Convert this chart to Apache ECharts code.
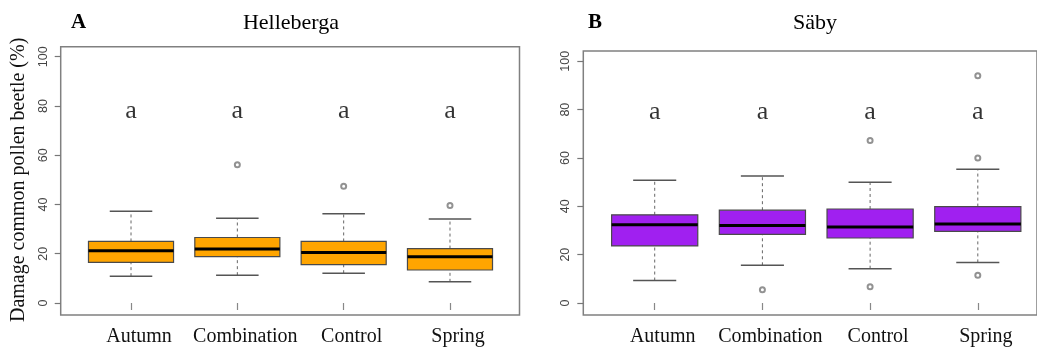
<!DOCTYPE html>
<html>
<head>
<meta charset="utf-8">
<script src="https://cdn.jsdelivr.net/npm/echarts@6/dist/echarts.min.js"></script>
<style>
html,body{margin:0;padding:0;background:#fff;}
#chart{width:1037px;height:347px;}
</style>
</head>
<body>
<div id="chart"></div>
<script>
// ---------- data ----------
var categories = ['Autumn', 'Combination', 'Control', 'Spring'];
var yTicks = [0, 20, 40, 60, 80, 100];
var letters = ['a', 'a', 'a', 'a'];
var letterYA = [78, 78, 78, 78];
var letterYB = [79, 79, 79, 79];

// Helleberga (panel A)
var helleLow  = [10.9, 11.3, 12.1, 8.6];
var helleQ1   = [16.5, 18.8, 15.6, 13.4];
var helleMed  = [21.2, 21.9, 20.5, 18.8];
var helleQ3   = [25.0, 26.6, 25.0, 22.1];
var helleHigh = [37.3, 34.4, 36.2, 34.1];
var helleOutliers = [[1, 56.1], [2, 47.4], [3, 39.6]];

// Säby (panel B)
var sabyLow  = [9.3, 15.6, 14.2, 16.8];
var sabyQ1   = [23.6, 28.4, 26.9, 29.6];
var sabyMed  = [32.4, 32.1, 31.4, 32.7];
var sabyQ3   = [36.5, 38.4, 38.9, 39.9];
var sabyHigh = [50.8, 52.5, 50.0, 55.3];
var sabyOutliers = [[1, 5.5], [2, 67.2], [2, 6.7], [3, 94.0], [3, 60.0], [3, 11.5]];

// ---------- helpers ----------
var SERIF = "'Liberation Serif','Times New Roman',serif";
function boxRows(low, q1, med, q3, high) {
  return categories.map(function (c, i) { return [i, low[i], q1[i], med[i], q3[i], high[i]]; });
}
function makeRender(fill) {
  return function (params, api) {
    var x = api.value(0);
    var band = api.size([1, 0])[0];
    var bw = band * 0.8, cw = band * 0.4;
    var pLow = api.coord([x, api.value(1)]);
    var pQ1 = api.coord([x, api.value(2)]);
    var pMed = api.coord([x, api.value(3)]);
    var pQ3 = api.coord([x, api.value(4)]);
    var pHigh = api.coord([x, api.value(5)]);
    var cx = pMed[0];
    var wStyle = {stroke: '#666', lineWidth: 1, lineDash: [3, 3]};
    var capStyle = {stroke: '#555', lineWidth: 1.5};
    return {
      type: 'group',
      children: [
        {type: 'line', shape: {x1: cx, y1: pQ3[1], x2: cx, y2: pHigh[1]}, style: wStyle},
        {type: 'line', shape: {x1: cx, y1: pLow[1], x2: cx, y2: pQ1[1]}, style: wStyle},
        {type: 'line', shape: {x1: cx - cw / 2, y1: pHigh[1], x2: cx + cw / 2, y2: pHigh[1]}, style: capStyle},
        {type: 'line', shape: {x1: cx - cw / 2, y1: pLow[1], x2: cx + cw / 2, y2: pLow[1]}, style: capStyle},
        {type: 'rect', shape: {x: cx - bw / 2, y: pQ3[1], width: bw, height: pQ1[1] - pQ3[1]},
         style: {fill: fill, stroke: '#4a4a4a', lineWidth: 1.2}},
        {type: 'line', shape: {x1: cx - bw / 2, y1: pMed[1], x2: cx + bw / 2, y2: pMed[1]},
         style: {stroke: '#000', lineWidth: 3}}
      ]
    };
  };
}

function dataXAxis(gi) {
  return {
    type: 'category', gridIndex: gi, data: categories, offset: 10,
    axisLine: {show: false},
    axisTick: {show: true, alignWithLabel: true, length: 7, lineStyle: {color: '#888', width: 1.2}},
    axisLabel: {interval: 0, hideOverlap: false, fontFamily: SERIF, fontSize: 20, color: '#111', margin: 14, padding: [0, 0, 0, 16]},
    splitLine: {show: false}
  };
}
function dataYAxis(gi, offset, name) {
  return {
    type: 'value', gridIndex: gi, min: 0, max: 100, interval: 20, offset: offset,
    axisLine: {show: false},
    axisTick: {show: true, length: 6, lineStyle: {color: '#777', width: 1.2}},
    axisLabel: {rotate: 90, fontFamily: "'Liberation Sans',Arial,sans-serif", fontSize: 12.5, color: '#444', margin: 11,
      formatter: function (v) { return yTicks.indexOf(v) >= 0 ? String(v) : ''; }},
    splitLine: {show: false},
    name: name || '',
    nameLocation: 'middle', nameRotate: 90, nameGap: 32,
    nameTextStyle: {fontFamily: SERIF, fontSize: 20, color: '#111'}
  };
}
function outlierSeries(ax, data) {
  return {type: 'scatter', xAxisIndex: ax, yAxisIndex: ax, symbol: 'emptyCircle', symbolSize: 5,
    itemStyle: {color: '#777', borderColor: '#777', borderWidth: 1}, data: data};
}
function letterSeries(ax, data) {
  return {type: 'scatter', xAxisIndex: ax, yAxisIndex: ax, symbolSize: 0,
    label: {show: true, position: 'inside', fontFamily: SERIF, fontSize: 26, color: '#000',
      formatter: function (p) { return letters[p.dataIndex]; }},
    data: data};
}

var option = {
  animation: false,
  backgroundColor: '#fff',
  grid: [
    {left: 60.7, top: 46.7, width: 458.8, bottom: 32, show: true, borderColor: '#808080', borderWidth: 1.5, backgroundColor: 'transparent'},
    {left: 77.85, top: 56.7, width: 425.3, bottom: 42},
    {left: 583.3, top: 51, width: 466, bottom: 32, show: true, borderColor: '#808080', borderWidth: 1.5, backgroundColor: 'transparent'},
    {left: 600.85, top: 61.3, width: 430.8, bottom: 41.7}
  ],
  xAxis: [
    {type: 'value', gridIndex: 0, show: false},
    dataXAxis(1),
    {type: 'value', gridIndex: 2, show: false},
    dataXAxis(3)
  ],
  yAxis: [
    {type: 'value', gridIndex: 0, show: false},
    dataYAxis(1, 17.15, 'Damage common pollen beetle (%)'),
    {type: 'value', gridIndex: 2, show: false},
    dataYAxis(3, 17.55, '')
  ],
  graphic: [
    {type: 'text', x: 78.5, y: 23, style: {text: 'A', fontFamily: SERIF, fontWeight: 'bold', fontSize: 21, fill: '#000', textAlign: 'center', textVerticalAlign: 'middle'}},
    {type: 'text', x: 291, y: 23, style: {text: 'Helleberga', fontFamily: SERIF, fontSize: 22, fill: '#000', textAlign: 'center', textVerticalAlign: 'middle'}},
    {type: 'text', x: 595, y: 23, style: {text: 'B', fontFamily: SERIF, fontWeight: 'bold', fontSize: 21, fill: '#000', textAlign: 'center', textVerticalAlign: 'middle'}},
    {type: 'text', x: 815, y: 23, style: {text: 'Säby', fontFamily: SERIF, fontSize: 22, fill: '#000', textAlign: 'center', textVerticalAlign: 'middle'}}
  ],
  series: [
    {type: 'custom', xAxisIndex: 1, yAxisIndex: 1, renderItem: makeRender('#FFA500'),
     encode: {x: 0, y: [1, 2, 3, 4, 5]},
     data: boxRows(helleLow, helleQ1, helleMed, helleQ3, helleHigh)},
    outlierSeries(1, helleOutliers),
    letterSeries(1, letterYA),
    {type: 'custom', xAxisIndex: 3, yAxisIndex: 3, renderItem: makeRender('#A020F0'),
     encode: {x: 0, y: [1, 2, 3, 4, 5]},
     data: boxRows(sabyLow, sabyQ1, sabyMed, sabyQ3, sabyHigh)},
    outlierSeries(3, sabyOutliers),
    letterSeries(3, letterYB)
  ]
};
var chart = echarts.init(document.getElementById('chart'), null, {renderer: 'canvas'});
chart.setOption(option);
</script>
</body>
</html>
